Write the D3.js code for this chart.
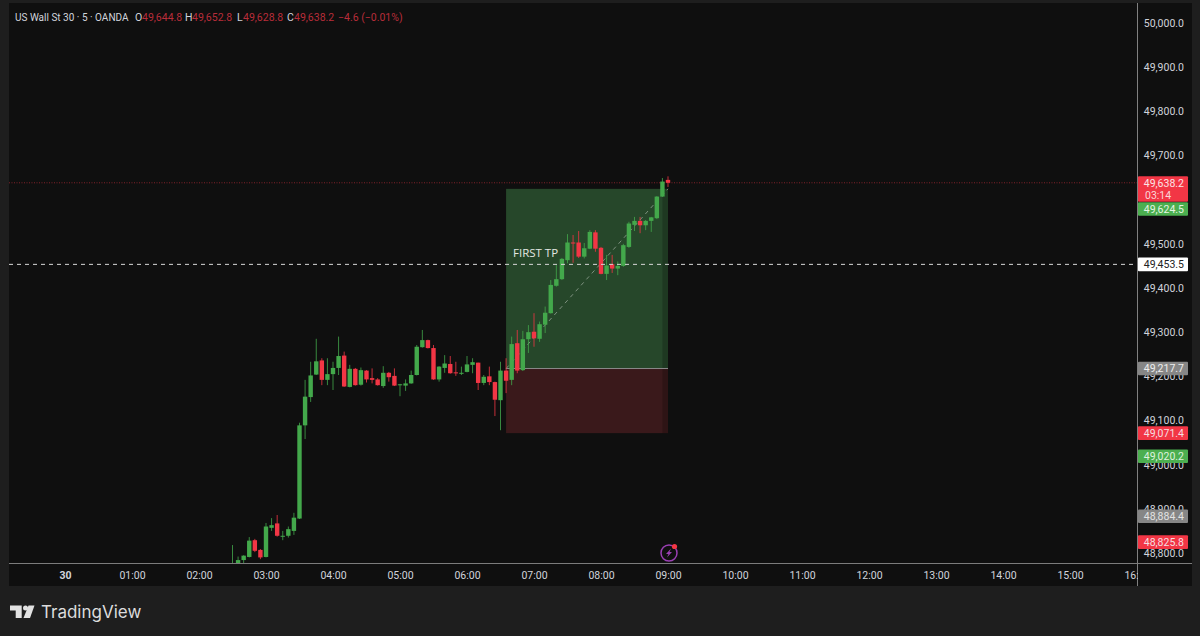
<!DOCTYPE html>
<html>
<head>
<meta charset="utf-8">
<script src="https://cdn.jsdelivr.net/npm/d3@7"></script>
<style>
  html, body { margin: 0; padding: 0; background: #1e1e1e; overflow: hidden; }
  svg { display: block; }
  text { font-family: Roboto, sans-serif; }
</style>
</head>
<body>
<svg id="chart" width="1200" height="636"></svg>
<script>
// candles: 5 minute bars, first one at 02:30, minutes counted from midnight
const firstBar = 150;
const barStep = 5;
const opens = [48762,48775,48784,48791,48829,48807,48791,48857,48867,48838,48839,48850,48878,49089,49153,49204,49236,49192,49205,49219,49247,49176,49217,49181,49213,49196,49193,49178,49208,49201,49180,49179,49184,49203,49266,49282,49264,49193,49219,49228,49209,49207,49210,49226,49231,49185,49200,49187,49146,49213,49192,49275,49214,49284,49301,49285,49317,49343,49405,49420,49463,49503,49503,49471,49489,49526,49491,49432,49454,49444,49450,49493,49543,49552,49542,49552,49558,49607,49644.8];
const highs = [48818,48792,48795,48836,48832,48809,48868,48879,48886,48850,48860,48891,49095,49192,49233,49285,49241,49241,49233,49290,49256,49226,49219,49220,49214,49218,49196,49223,49210,49218,49183,49193,49213,49271,49305,49283,49271,49223,49248,49246,49233,49222,49246,49241,49231,49203,49222,49188,49233,49241,49290,49305,49303,49316,49343,49324,49358,49418,49452,49468,49522,49520,49529,49502,49531,49531,49493,49475,49475,49460,49500,49550,49561,49561,49554,49561,49608,49649,49652.8];
const lows = [48755,48770,48777,48790,48802,48786,48790,48850,48837,48829,48835,48841,48877,49058,49142,49203,49180,49180,49169,49203,49176,49175,49179,49179,49186,49184,49179,49174,49188,49178,49155,49167,49183,49202,49265,49263,49192,49188,49208,49206,49201,49203,49209,49207,49169,49180,49180,49110,49078,49162,49180,49207,49212,49253,49267,49278,49298,49342,49403,49418,49456,49457,49468,49467,49488,49482,49431,49418,49434,49429,49448,49491,49529,49524,49531,49527,49556,49606,49628.8];
const closes = [48772,48784,48794,48828,48805,48790,48860,48863,48839,48839,48854,48880,49089,49154,49202,49234,49192,49205,49219,49246,49177,49217,49180,49214,49193,49192,49180,49208,49198,49179,49182,49184,49203,49267,49282,49264,49193,49222,49229,49207,49207,49208,49227,49232,49185,49199,49187,49147,49213,49190,49273,49213,49284,49300,49286,49318,49344,49407,49420,49466,49503,49501,49471,49490,49527,49489,49432,49451,49444,49450,49497,49546,49552,49542,49552,49560,49607,49641,49638.2];

// price levels on the right hand scale (49,600 sits behind the last price tag)
const priceTicks = [50000,49900,49800,49700,49500,49400,49300,49200,49100,49000,48900,48800];
const hourTicks = [0,60,120,180,240,300,360,420,480,540,600,660,720,780,840,900,960];

// long position tool
const toolStart = 395;
const toolEnd = 540;
const targetPrice = 49624.5;
const entryPrice = 49217.7;
const stopPrice = 49071.4;
const lastPrice = 49638.2;
const tpPrice = 49453.5;

// tags on the price axis: price, background, text colour, nudge down where tags collide
const tagPrices = [49624.5,49453.5,49217.7,49071.4,49020.2,48884.4,48825.8];
const tagFills = ['#4caf50','#ffffff','#868686','#f23645','#4caf50','#868686','#f23645'];
const tagInks = ['#e4f5e4','#222222','#eeeeee','#f5dfe1','#dff2df','#e2e2e2','#f5dfe1'];
const tagNudge = [20.2,0,0,0,0.5,0.5,0.5];

const legendParts = [
  ['US Wall St 30 · 5 · OANDA', '#d1d4dc'], ['O', '#d1d4dc'], ['49,644.8', '#b92d3a'],
  ['H', '#d1d4dc'], ['49,652.8', '#b92d3a'], ['L', '#d1d4dc'], ['49,628.8', '#b92d3a'],
  ['C', '#d1d4dc'], ['49,638.2', '#b92d3a'], ['−4.6 (−0.01%)', '#b92d3a']
];
const legendX = [15,135,142,185,192,237,243,287,294,338];

const UP = '#43a84b', DOWN = '#f23645';
const panelLeft = 9, panelTop = 3, panelRight = 1137, panelBottom = 563, axisRight = 1192, axisBottom = 586;

const svg = d3.select('#chart');

const x = d3.scaleLinear().domain([60, 540]).range([132, 668]);
const y = d3.scaleLinear().domain([48800, 50000]).range([553, 23]);
const fmt = d3.format(',.1f');

svg.append('rect').attr('width', 1200).attr('height', 636).attr('fill', '#1e1e1e');
svg.append('rect').attr('x', panelLeft).attr('y', panelTop).attr('width', axisRight - panelLeft)
  .attr('height', axisBottom - panelTop).attr('fill', '#0f0f0f');

const defs = svg.append('defs');
defs.append('clipPath').attr('id', 'plot').append('rect')
  .attr('x', panelLeft).attr('y', panelTop).attr('width', panelRight - panelLeft).attr('height', panelBottom - panelTop);
defs.append('clipPath').attr('id', 'timeaxis').append('rect')
  .attr('x', panelLeft).attr('y', panelBottom).attr('width', panelRight - panelLeft + 1).attr('height', 30);

const plot = svg.append('g').attr('clip-path', 'url(#plot)');

// position tool boxes
plot.append('rect').attr('x', x(toolStart)).attr('width', x(toolEnd) - x(toolStart))
  .attr('y', y(targetPrice)).attr('height', y(entryPrice) - y(targetPrice)).attr('fill', '#26472a');
plot.append('rect').attr('x', x(toolStart)).attr('width', x(toolEnd) - x(toolStart))
  .attr('y', y(entryPrice)).attr('height', y(stopPrice) - y(entryPrice)).attr('fill', '#3a191b');
plot.append('rect').attr('x', x(535)).attr('width', x(toolEnd) - x(535))
  .attr('y', y(targetPrice)).attr('height', y(stopPrice) - y(targetPrice)).attr('fill', '#000').attr('opacity', 0.2);
plot.append('line').attr('x1', x(toolStart)).attr('x2', x(toolEnd))
  .attr('y1', y(entryPrice)).attr('y2', y(entryPrice)).attr('stroke', '#8a8a8a');
plot.append('line').attr('x1', x(toolStart)).attr('x2', x(toolEnd))
  .attr('y1', y(entryPrice)).attr('y2', y(targetPrice)).attr('stroke', '#b9c4b9')
  .attr('stroke-width', 1).attr('stroke-dasharray', '4 4').attr('opacity', 0.6);

// price lines
plot.append('line').attr('x1', panelLeft).attr('x2', panelRight)
  .attr('y1', y(lastPrice)).attr('y2', y(lastPrice)).attr('stroke', '#f23645')
  .attr('stroke-dasharray', '1 1.5').attr('opacity', 0.5);

// candles
const bars = d3.range(opens.length);
const cx = i => x(firstBar + i * barStep);
const colour = i => closes[i] >= opens[i] ? UP : DOWN;

plot.selectAll('.wick').data(bars).enter().append('line')
  .attr('class', 'wick')
  .attr('x1', cx).attr('x2', cx)
  .attr('y1', i => y(highs[i])).attr('y2', i => y(lows[i]))
  .attr('stroke', colour).attr('opacity', 0.8);

plot.selectAll('.body').data(bars).enter().append('rect')
  .attr('class', 'body')
  .attr('x', i => cx(i) - 2.2).attr('width', 4.4)
  .attr('y', i => y(Math.max(opens[i], closes[i])))
  .attr('height', i => Math.max(1, Math.abs(y(opens[i]) - y(closes[i]))))
  .attr('fill', colour);

plot.append('line').attr('x1', panelLeft).attr('x2', panelRight)
  .attr('y1', y(tpPrice)).attr('y2', y(tpPrice)).attr('stroke', '#d8d8d8')
  .attr('stroke-width', 1).attr('stroke-dasharray', '4 4');

plot.append('text').attr('x', 513).attr('y', 257).attr('font-size', 11.5)
  .style('font-family', '"Open Sans", sans-serif')
  .attr('fill', '#e3e8e3').text('FIRST TP');

// axis frame
svg.append('line').attr('x1', panelLeft).attr('x2', axisRight).attr('y1', panelBottom + 0.5).attr('y2', panelBottom + 0.5)
  .attr('stroke', '#7c7c7c').attr('stroke-width', 1.2);
svg.append('line').attr('x1', panelRight + 0.5).attr('x2', panelRight + 0.5).attr('y1', panelTop).attr('y2', axisBottom)
  .attr('stroke', '#808080');

// price axis
const priceAxis = d3.axisRight(y).tickValues(priceTicks).tickSize(0).tickPadding(0).tickFormat(fmt);
const pa = svg.append('g').attr('transform', `translate(${panelRight + 47},0)`).call(priceAxis);
pa.select('.domain').remove();
pa.selectAll('text').attr('text-anchor', 'end').attr('fill', '#d1d4dc')
  .style('font-family', 'Roboto, sans-serif').style('font-size', '10.5px');

// time axis
const timeAxis = d3.axisBottom(x).tickValues(hourTicks).tickSize(0).tickPadding(0)
  .tickFormat(m => m === 0 ? '30' : d3.format('02')(m / 60) + ':00');
const ta = svg.append('g').attr('clip-path', 'url(#timeaxis)').append('g')
  .attr('transform', `translate(0,${panelBottom + 9})`).call(timeAxis);
ta.select('.domain').remove();
ta.selectAll('text').attr('fill', '#d1d4dc')
  .style('font-family', 'Roboto, sans-serif').style('font-size', '10.5px')
  .style('font-weight', m => m === 0 ? 700 : 400);

// price tags
const tags = svg.append('g');
tags.selectAll('rect').data(tagPrices).enter().append('rect')
  .attr('x', panelRight + 1).attr('width', 50)
  .attr('y', (d, i) => y(d) + tagNudge[i] - 6.8).attr('height', 13.6)
  .attr('rx', 1).attr('fill', (d, i) => tagFills[i]);
tags.selectAll('text').data(tagPrices).enter().append('text')
  .attr('x', panelRight + 47).attr('y', (d, i) => y(d) + tagNudge[i] + 3.9)
  .attr('text-anchor', 'end').attr('font-size', 10.5)
  .attr('fill', (d, i) => tagInks[i]).text(fmt);

// last price tag with countdown
const lastY = y(lastPrice);
svg.append('rect').attr('x', panelRight + 1).attr('width', 50).attr('y', lastY - 6.5).attr('height', 25.5)
  .attr('rx', 1).attr('fill', DOWN);
svg.append('text').attr('x', panelRight + 47).attr('y', lastY + 4).attr('text-anchor', 'end')
  .attr('font-size', 10.5).attr('fill', '#fbe3e5').text(fmt(lastPrice));
svg.append('text').attr('x', panelRight + 8).attr('y', lastY + 16).attr('font-size', 10.5)
  .attr('fill', '#fbd5d8').text('03:14');

// legend
svg.append('g').selectAll('text').data(legendParts).enter().append('text')
  .attr('x', (d, i) => legendX[i]).attr('y', 21)
  .attr('font-size', (d, i) => i === 0 ? 10 : 10.5)
  .attr('fill', d => d[1]).text(d => d[0]);

// lightning icon
const icon = svg.append('g').attr('transform', `translate(${x(540) + 1},553)`);
icon.append('circle').attr('r', 8).attr('fill', 'none').attr('stroke', '#9a3fb3').attr('stroke-width', 1.5);
icon.append('path').attr('d', 'M2,-4.5 L-3,1 L-0.5,1 L-2,4.5 L3,-1 L0.5,-1 Z').attr('fill', '#9a3fb3');
icon.append('circle').attr('cx', 5.5).attr('cy', -6.5).attr('r', 2.6).attr('fill', '#f23645');

// footer logo
const logo = svg.append('g').attr('fill', '#e2e2e2');
logo.append('path').attr('d', 'M10,605.5 H21.7 V618 H15.7 V610.5 H10 Z');
logo.append('circle').attr('cx', 25.5).attr('cy', 608).attr('r', 2.5);
logo.append('path').attr('d', 'M28.5,605.5 H34.5 L30,618 H23.5 Z');
svg.append('text').attr('x', 41).attr('y', 618).attr('font-size', 17).attr('font-weight', 400)
  .style('font-family', 'Inter, sans-serif').attr('fill', '#dcdcdc').text('TradingView');
</script>
</body>
</html>
